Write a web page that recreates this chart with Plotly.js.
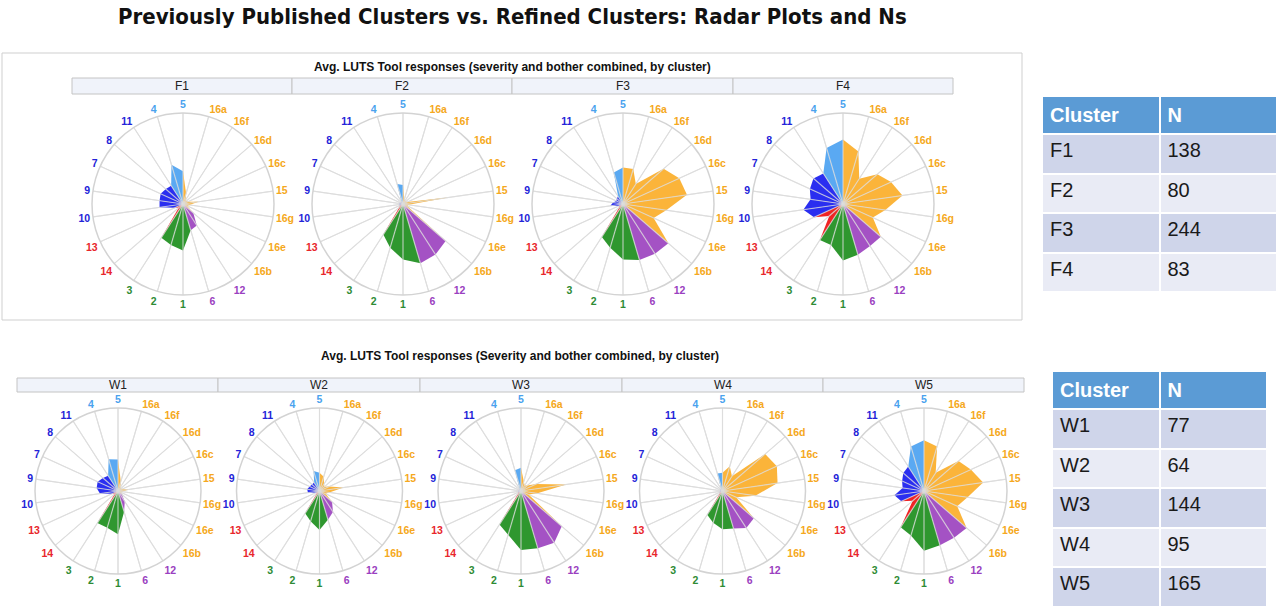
<!DOCTYPE html>
<html><head><meta charset="utf-8">
<script src="https://cdn.plot.ly/plotly-3.0.1.min.js"></script>
<style>html,body{margin:0;padding:0;background:#fff;} #chart{width:1280px;height:610px;}</style>
</head><body><div id="chart"></div>
<script>
// ---------- DATA ----------
const categories = ['5','16a','16f','16d','16c','15','16g','16e','16b','12','6','1','2','3','14','13','10','9','7','8','11','4'];
const groups     = ['A','B','B','B','B','B','B','B','B','C','C','D','D','D','E','E','F','F','F','F','F','A'];

const topClusters = ['F1','F2','F3','F4'];
const F1 = [0.36,0.12,0.05,0.05,0.06,0.17,0.07,0.05,0.15,0.28,0.30,0.51,0.47,0.44,0.06,0.10,0.26,0.26,0.27,0.25,0.24,0.45];
const F2 = [0.21,0.05,0.04,0.04,0.05,0.50,0.06,0.05,0.62,0.66,0.68,0.61,0.50,0.40,0.05,0.04,0.04,0.04,0.03,0.03,0.03,0.23];
const F3 = [0.40,0.40,0.26,0.59,0.68,0.71,0.48,0.37,0.66,0.65,0.64,0.61,0.50,0.43,0.05,0.05,0.14,0.11,0.08,0.09,0.10,0.36];
const F4 = [0.71,0.60,0.33,0.50,0.58,0.66,0.47,0.36,0.55,0.55,0.58,0.62,0.47,0.47,0.20,0.35,0.44,0.36,0.40,0.43,0.40,0.64];

const bottomClusters = ['W1','W2','W3','W4','W5'];
const W1 = [0.38,0.12,0.05,0.05,0.05,0.13,0.05,0.04,0.06,0.15,0.26,0.52,0.46,0.46,0.05,0.08,0.22,0.26,0.27,0.24,0.22,0.40];
const W2 = [0.22,0.18,0.10,0.08,0.13,0.29,0.12,0.08,0.20,0.30,0.36,0.47,0.38,0.32,0.04,0.05,0.14,0.15,0.13,0.12,0.12,0.25];
const W3 = [0.28,0.12,0.08,0.10,0.20,0.55,0.20,0.10,0.65,0.74,0.72,0.71,0.55,0.48,0.04,0.04,0.03,0.03,0.03,0.03,0.03,0.26];
const W4 = [0.22,0.31,0.21,0.68,0.72,0.67,0.40,0.18,0.50,0.53,0.47,0.46,0.40,0.34,0.04,0.04,0.03,0.03,0.03,0.03,0.03,0.22];
const W5 = [0.61,0.56,0.26,0.55,0.62,0.72,0.53,0.44,0.68,0.67,0.68,0.72,0.56,0.52,0.18,0.30,0.36,0.26,0.29,0.33,0.35,0.56];

const topN = [138,80,244,83];
const bottomN = [77,64,144,95,165];

// ---------- STYLE ----------
const fillColor  = {A:'#5aa9f2', B:'#fbb43a', C:'#a452c4', D:'#2f972f', E:'#ef2424', F:'#2a2ef0'};
const labelColor = {A:'#4aa2ee', B:'#f5a820', C:'#9a40c0', D:'#2e8b34', E:'#e8262b', F:'#2323d8'};
const W = 1280, H = 610;

const topSeries = [F1,F2,F3,F4];
const bottomSeries = [W1,W2,W3,W4,W5];

function dom(cx, cy, R){ return {x:[(cx-R)/W,(cx+R)/W], y:[(H-cy-R)/H,(H-cy+R)/H]}; }

const ticktext = categories.map((c,i)=>'<b><span style="color:'+labelColor[groups[i]]+'">'+c+'</span></b>');

const traces = [];
const layout = {
  width:W, height:H, margin:{l:0,r:0,t:0,b:0}, paper_bgcolor:'#fff', showlegend:false,
  font:{family:'Arial, Liberation Sans, sans-serif'},
  annotations:[], shapes:[]
};

function polarLayout(cx, cy, R){
  return {
    domain: dom(cx,cy,R), bgcolor:'rgba(0,0,0,0)',
    radialaxis:{range:[0,1], visible:false},
    angularaxis:{type:'category', categoryarray:categories, rotation:90, direction:'clockwise',
      showgrid:true, gridcolor:'#d9d9d9', gridwidth:1, showline:true, linecolor:'#d3d3d3', linewidth:1.5,
      ticks:'', tickmode:'array', tickvals:categories, ticktext:ticktext,
      tickfont:{size:10.5, family:'Arial, Liberation Sans, sans-serif'}}
  };
}

function addRadar(series, sub){
  const n = categories.length;
  for(let k=0;k<n;k++){
    const p = (k-1+n)%n;
    traces.push({type:'scatterpolar', subplot:sub, mode:'lines', fill:'toself',
      r:[0, series[p], series[k], 0], theta:[categories[k], categories[p], categories[k], categories[k]],
      fillcolor: fillColor[groups[k]], line:{width:0, color:fillColor[groups[k]]}, hoverinfo:'skip'});
  }
  const sr=[], st=[];
  categories.forEach(c=>{ sr.push(0,1,null); st.push(c,c,null); });
  traces.push({type:'scatterpolar', subplot:sub, mode:'lines', r:sr, theta:st, connectgaps:false,
    line:{color:'rgba(222,222,222,0.75)', width:1.2}, hoverinfo:'skip'});
}

let idx = 1;
const topCx = [183,403,623,843];
topSeries.forEach((s,i)=>{
  const key = idx===1?'polar':'polar'+idx;
  layout[key] = polarLayout(topCx[i], 204, 91);
  addRadar(s, key);
  idx++;
});
const botCx = [118,319.5,521,722.5,924];
bottomSeries.forEach((s,i)=>{
  const key = 'polar'+idx;
  layout[key] = polarLayout(botCx[i], 491, 83);
  addRadar(s, key);
  idx++;
});

// frame of top panel
layout.shapes.push({type:'rect', xref:'paper', yref:'paper', x0:2/W, x1:1022/W, y0:(H-320)/H, y1:(H-53)/H,
  line:{color:'#cfcfcf', width:1}, fillcolor:'rgba(0,0,0,0)', layer:'below'});
// strip headers
const topEdges = [72,292,512,733,953];
topClusters.forEach((c,i)=>{
  layout.shapes.push({type:'rect', xref:'paper', yref:'paper', x0:topEdges[i]/W, x1:topEdges[i+1]/W,
    y0:(H-94)/H, y1:(H-78)/H, line:{color:'#c4c4c4', width:1}, fillcolor:'#f0f3fa', layer:'below'});
  layout.annotations.push({xref:'paper', yref:'paper', x:(topEdges[i]+topEdges[i+1])/2/W, y:(H-86)/H,
    text:c, showarrow:false, font:{size:12, color:'#222'}, xanchor:'center', yanchor:'middle'});
});
const botEdges = [17,218,420,622,823,1024];
bottomClusters.forEach((c,i)=>{
  layout.shapes.push({type:'rect', xref:'paper', yref:'paper', x0:botEdges[i]/W, x1:botEdges[i+1]/W,
    y0:(H-392)/H, y1:(H-378)/H, line:{color:'#c4c4c4', width:1}, fillcolor:'#f0f3fa', layer:'below'});
  layout.annotations.push({xref:'paper', yref:'paper', x:(botEdges[i]+botEdges[i+1])/2/W, y:(H-385)/H,
    text:c, showarrow:false, font:{size:12, color:'#222'}, xanchor:'center', yanchor:'middle'});
});

// titles
layout.annotations.push({xref:'paper', yref:'paper', x:512/W, y:(H-17)/H, xanchor:'center', yanchor:'middle', showarrow:false,
  text:'<b>Previously Published Clusters vs. Refined Clusters: Radar Plots and Ns</b>',
  font:{size:22, color:'#111', family:'Liberation Sans Narrow, DejaVu Sans Condensed, Arial, sans-serif'}});
layout.annotations.push({xref:'paper', yref:'paper', x:512/W, y:(H-67)/H, xanchor:'center', yanchor:'middle', showarrow:false,
  text:'<b>Avg. LUTS Tool responses (severity and bother combined, by cluster)</b>', font:{size:12, color:'#111'}});
layout.annotations.push({xref:'paper', yref:'paper', x:520/W, y:(H-356)/H, xanchor:'center', yanchor:'middle', showarrow:false,
  text:'<b>Avg. LUTS Tool responses (Severity and bother combined, by cluster)</b>', font:{size:12, color:'#111'}});

// tables
function addTable(names, ns, x0, x1, yTop, yBot){
  const rowColors = names.map((_,i)=> i%2===0 ? '#cfd5ea' : '#e9ebf5');
  traces.push({type:'table', domain:{x:[x0/W, x1/W], y:[(H-yBot)/H, (H-yTop)/H]},
    columnwidth:[1,1],
    header:{values:['<b>Cluster</b>','<b>N</b>'], align:'left', height:37,
      fill:{color:'#5b9bd5'}, line:{color:'#ffffff', width:2},
      font:{size:20, color:'#ffffff', family:'Liberation Sans, Arial, sans-serif'}},
    cells:{values:[names, ns.map(String)], align:'left', height:39.5,
      fill:{color:[rowColors,rowColors]}, line:{color:'#ffffff', width:2},
      font:{size:20, color:'#1a1a1a', family:'Liberation Sans, Arial, sans-serif'}}
  });
}
addTable(topClusters, topN, 1042, 1278, 96, 293);
addTable(bottomClusters, bottomN, 1052, 1268, 371, 608);

Plotly.newPlot('chart', traces, layout, {staticPlot:true, displayModeBar:false});
</script>
</body></html>
